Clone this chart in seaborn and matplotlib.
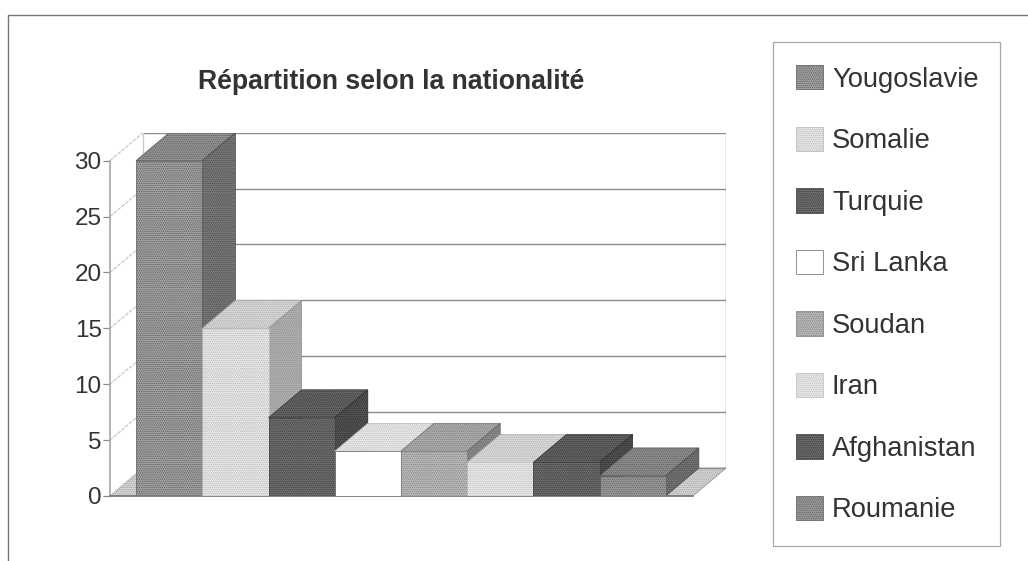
import pandas as pd
import matplotlib
matplotlib.use("Agg")
import matplotlib.pyplot as plt
import seaborn as sns
from matplotlib.colors import to_rgb
from matplotlib.lines import Line2D
from matplotlib.patches import Patch

pays = ['Yougoslavie', 'Somalie', 'Turquie', 'Sri Lanka', 'Soudan', 'Iran', 'Afghanistan', 'Roumanie']
effectifs = [30, 15, 7, 4, 4, 3, 3, 1.8]
gris = ['#a8a8a8', '#ececec', '#747474', '#ffffff', '#c0c0c0', '#ececec', '#707070', '#a0a0a0']
motifs = ['#5a5a5a', '#b4b4b4', '#383838', '#c4c4c4', '#7c7c7c', '#bcbcbc', '#383838', '#5c5c5c']
graduations = [0, 5, 10, 15, 20, 25, 30]

# depth of the fake 3D box, in data units
PROF_X = 0.5
PROF_Y = 2.5
TEXTE = '#333333'
TRAIT = '#8c8c8c'
TRAME = '........'


def teinte(couleur, facteur):
    return tuple(min(1, c * facteur) for c in to_rgb(couleur))


def dessine_cadre(ax, x_min, x_max):
    """Back wall, side wall and floor of the 3D box."""
    ax.fill([x_min, x_max - PROF_X, x_max, x_min + PROF_X],
            [0, 0, PROF_Y, PROF_Y], facecolor='#dddddd', edgecolor='#999999',
            hatch=TRAME, linewidth=0.6, zorder=1)
    for val in graduations:
        ax.plot([x_min + PROF_X, x_max], [val + PROF_Y, val + PROF_Y],
                color=TRAIT, linewidth=1.0, zorder=1.5)
        ax.plot([x_min, x_min + PROF_X], [val, val + PROF_Y],
                color='#c8c8c8', linewidth=0.9, linestyle=(0, (3, 1)), zorder=1.5)
    ax.plot([x_min + PROF_X, x_min + PROF_X], [PROF_Y, 30 + PROF_Y],
            color='#c8c8c8', linewidth=0.9, zorder=1.5)
    ax.plot([x_max, x_max], [PROF_Y, 30 + PROF_Y], color=TRAIT, linewidth=1.0, zorder=1.5)


def ajoute_volumes(ax, barres):
    """Add top and side faces to each bar, left to right so they overlap correctly."""
    for i, barre in enumerate(barres):
        x0 = barre.get_x()
        x1 = x0 + barre.get_width()
        h = barre.get_height()
        z = 2 + i
        barre.set_zorder(z + 0.2)
        barre.set_hatch(TRAME)
        barre.set_edgecolor(motifs[i] if pays[i] != 'Sri Lanka' else '#666666')
        barre.set_linewidth(0.5)
        if pays[i] == 'Sri Lanka':
            barre.set_hatch(None)
        ax.fill([x0, x1, x1 + PROF_X, x0 + PROF_X], [h, h, h + PROF_Y, h + PROF_Y],
                facecolor=teinte(gris[i], 0.93), edgecolor=teinte(motifs[i], 0.95),
                hatch=TRAME, linewidth=0.5, zorder=z)
        ax.fill([x1, x1 + PROF_X, x1 + PROF_X, x1], [0, PROF_Y, h + PROF_Y, h],
                facecolor=teinte(gris[i], 0.75), edgecolor=teinte(motifs[i], 0.8),
                hatch=TRAME, linewidth=0.5, zorder=z + 0.1)


sns.set_theme(style='white')
plt.rcParams['font.family'] = ['Liberation Sans', 'DejaVu Sans']
plt.rcParams['hatch.linewidth'] = 0.7

fig = plt.figure(figsize=(10.28, 5.61), dpi=100)
ax = fig.add_axes([110 / 1028, 1 - 496 / 561, 616 / 1028, (496 - 132.7) / 561])

df = pd.DataFrame({'pays': pays, 'effectif': effectifs})
sns.barplot(data=df, x='pays', y='effectif', hue='pays', palette=gris, hue_order=pays,
            order=pays, width=1, saturation=1, legend=False, ax=ax)
barres = list(ax.patches)

x_min, x_max = -0.894, 8.41
ax.set_xlim(x_min, x_max)
ax.set_ylim(0, 30 + PROF_Y)
dessine_cadre(ax, x_min, x_max)
ajoute_volumes(ax, barres)

ax.set_xlabel('')
ax.set_ylabel('')
ax.set_xticks([])
ax.set_yticks(graduations)
ax.tick_params(axis='y', length=5, width=0.9, color=TRAIT, labelsize=17.5,
               labelcolor=TEXTE, pad=1, left=True)
ax.patch.set_alpha(0)
for cote in ['top', 'right']:
    ax.spines[cote].set_visible(False)
ax.spines['left'].set_bounds(0, 30)
ax.spines['left'].set_color('#aaaaaa')
ax.spines['bottom'].set_bounds(x_min, x_max - PROF_X)
ax.spines['bottom'].set_color('#777777')

fig.text(391 / 1028, 1 - 82 / 561, 'Répartition selon la nationalité', ha='center', va='center',
         fontsize=19.2, fontweight='bold', color=TEXTE)

poignees = [Patch(facecolor=g, edgecolor=m if p != 'Sri Lanka' else '#666666',
                  hatch=TRAME if p != 'Sri Lanka' else None, linewidth=0.5)
            for p, g, m in zip(pays, gris, motifs)]
leg = fig.legend(poignees, pays, loc='upper left',
                 bbox_to_anchor=(773 / 1028, 1 - 545 / 561, 227 / 1028, 503 / 561),
                 bbox_transform=fig.transFigure, mode='expand', borderaxespad=0,
                 fontsize=19.7, handlelength=0.985, handleheight=1.0, handletextpad=0.33,
                 labelspacing=1.24, borderpad=0.84, labelcolor=TEXTE, frameon=True,
                 fancybox=False, edgecolor='#a8a8a8', framealpha=1)
leg.get_frame().set_linewidth(0.9)

# scanned page frame
fig.add_artist(Line2D([8 / 1028, 1], [1 - 15 / 561, 1 - 15 / 561], color='#777777', linewidth=1.0))
fig.add_artist(Line2D([8 / 1028, 8 / 1028], [0, 1 - 15 / 561], color='#777777', linewidth=1.0))

fig.savefig('out.png', dpi=100)
plt.close(fig)
